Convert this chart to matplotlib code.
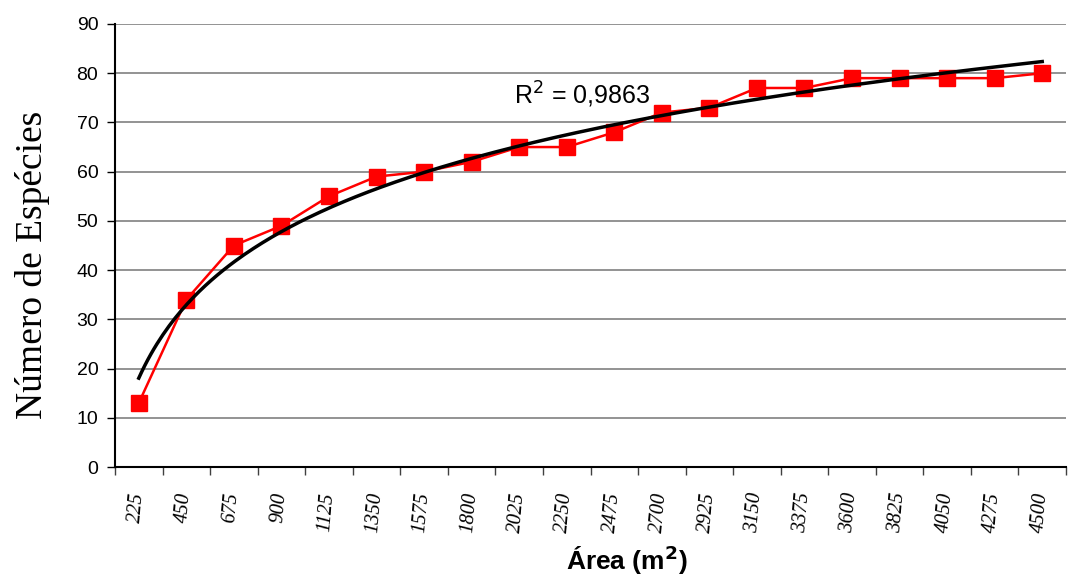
import numpy as np
import matplotlib
matplotlib.use("Agg")
import matplotlib.pyplot as plt

areas = [225, 450, 675, 900, 1125, 1350, 1575, 1800, 2025, 2250,
         2475, 2700, 2925, 3150, 3375, 3600, 3825, 4050, 4275, 4500]
species = [13, 34, 45, 49, 55, 59, 60, 62, 65, 65,
           68, 72, 73, 77, 77, 79, 79, 79, 79, 80]
r2_label = "R$^2$ = 0,9863"

idx = np.arange(1, len(areas) + 1)
coef = np.polyfit(np.log(idx), species, 1)
xs = np.linspace(1, len(areas), 300)
trend = coef[0] * np.log(xs) + coef[1]

fig = plt.figure(figsize=(10.76, 5.79), dpi=100)
ax = fig.add_axes([115/1076, 1 - 467/579, (1066-115)/1076, (467-24)/579])

ax.set_xlim(0.5, len(areas) + 0.5)
ax.set_ylim(0, 90)
ax.set_yticks(range(0, 91, 10))
ax.yaxis.grid(True, color='#808080', lw=1.2)
ax.set_axisbelow(True)

ax.plot(idx, species, color='#ff0000', lw=1.8, marker='s', ms=12,
        markerfacecolor='#ff0000', markeredgecolor='#ff0000', zorder=3)
ax.plot(xs, trend, color='black', lw=2.5, zorder=4)

ax.set_xticks(np.arange(0.5, len(areas) + 1, 1))
ax.set_xticklabels([])
ax.tick_params(axis='x', length=6, width=1, color='#404040')
ax.tick_params(axis='y', length=6, width=1, labelsize=14, pad=6)
for lbl in ax.get_yticklabels():
    lbl.set_fontfamily('Liberation Sans')

for i, a in zip(idx, areas):
    ax.text(i - 0.05, -5.0, str(a), rotation=85, ha='center', va='top',
            fontsize=14.5, fontstyle='italic', family='Liberation Serif')

for s in ['top', 'right']:
    ax.spines[s].set_visible(False)
ax.spines['left'].set_linewidth(1.5)
ax.spines['bottom'].set_linewidth(1.5)

ax.text(8.9, 75.5, r2_label, fontsize=18, family='Liberation Sans', ha='left', va='center')

fig.text(33/1076, 1 - 265/579, "Número de Espécies", rotation=90, ha='center', va='center',
         fontsize=27, family='Liberation Serif')
fig.text(627/1076, 1 - 570/579, "Área (m$\\mathbf{^2}$)", ha='center', va='baseline',
         fontsize=19, fontweight='bold', family='Liberation Sans')

fig.savefig("out.png", dpi=100)
